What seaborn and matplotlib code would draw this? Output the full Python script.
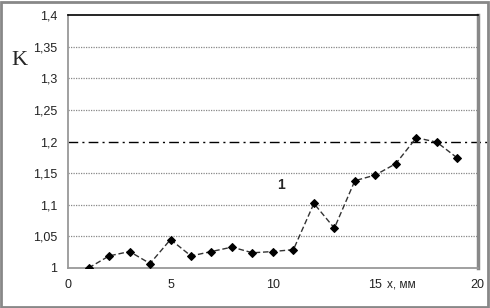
import numpy as np
import pandas as pd
import seaborn as sns
import matplotlib.pyplot as plt
from matplotlib.patches import Rectangle

# data
x_mm = [1, 2, 3, 4, 5, 6, 7, 8, 9, 10, 11, 12, 13, 14, 15, 16, 17, 18, 19]
k_vals = [1.000, 1.019, 1.026, 1.007, 1.045, 1.019, 1.026, 1.033, 1.024, 1.026,
          1.029, 1.102, 1.063, 1.138, 1.147, 1.165, 1.206, 1.199, 1.174]
y_ticks = [1.0, 1.05, 1.1, 1.15, 1.2, 1.25, 1.3, 1.35, 1.4]
y_labels = ['1', '1,05', '1,1', '1,15', '1,2', '1,25', '1,3', '1,35', '1,4']
x_ticks = [0, 5, 10, 15, 20]
x_labels = ['0', '5', '10', '15', '20']
k_limit = 1.2

df = pd.DataFrame({'x': x_mm, 'K': k_vals})

sns.set_style('white')
plt.rcParams['font.family'] = ['Liberation Sans', 'DejaVu Sans']

fig = plt.figure(figsize=(4.9, 3.08), dpi=100)
ax = fig.add_axes([0.139, 0.130, 0.836, 0.821])

# grid lines (dotted), limit line dash-dot running out to the frame
for yv in y_ticks[1:-1]:
    if yv == k_limit:
        continue
    ax.axhline(yv, color='#888888', lw=0.9, ls=(0, (1, 1)), zorder=1)
ax.axhline(k_limit, xmin=0, xmax=1.022, color='black', lw=1.0,
           ls=(0, (7, 3, 1.5, 3)), zorder=2, clip_on=False)

sns.lineplot(data=df, x='x', y='K', ax=ax, color='#333333', lw=1.0,
             marker='D', markersize=4, markeredgecolor='black',
             markerfacecolor='black', zorder=3)
ax.lines[-1].set_linestyle((0, (4, 2)))

ax.set_xlim(0, 20)
ax.set_ylim(1.0, 1.4)
ax.set_yticks(y_ticks)
ax.set_yticklabels(y_labels, fontsize=9, color='#222222')
ax.set_xticks(x_ticks)
ax.set_xticklabels(x_labels, fontsize=9, color='#222222')
ax.tick_params(axis='both', direction='out', length=3, width=1, color='#999999', pad=5)
ax.set_xlabel('')
ax.set_ylabel('')

for side in ['left', 'bottom']:
    ax.spines[side].set_color('#999999')
    ax.spines[side].set_linewidth(1.3)
ax.spines['top'].set_color('black')
ax.spines['top'].set_linewidth(1.2)
ax.spines['right'].set_color('#888888')
ax.spines['right'].set_linewidth(2.5)

ax.text(10.4, 1.131, '1', fontsize=10, fontweight='bold', ha='center', va='center')
fig.text(0.040, 0.805, 'K', fontsize=16, family=['Liberation Serif', 'DejaVu Serif'],
         ha='center', va='center')
fig.text(0.818, 0.075, 'x, мм', fontsize=8.5, ha='center', va='center', color='#222222')

# outer frame
fig.patches.append(Rectangle((0.003, 0.004), 0.992, 0.99, transform=fig.transFigure,
                             fill=False, ec='#888888', lw=2))

plt.savefig('out.png', dpi=100)
